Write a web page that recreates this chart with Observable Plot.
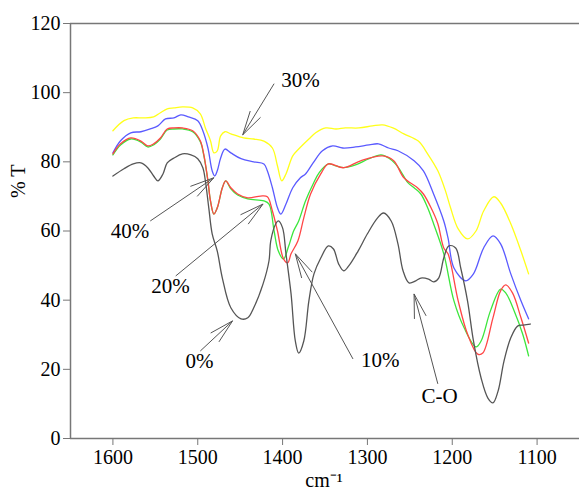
<!DOCTYPE html>
<html>
<head>
<meta charset="utf-8">
<script src="https://cdn.jsdelivr.net/npm/d3@7"></script>
<script src="https://cdn.jsdelivr.net/npm/@observablehq/plot@0.6"></script>
<style>
  html, body { margin: 0; padding: 0; background: #fff; }
  #chart { width: 579px; height: 493px; }
  #chart svg, #chart svg text { font-family: "Liberation Serif", "Times New Roman", serif !important; }
</style>
</head>
<body>
<div id="chart"></div>
<script>
// ---- data (wavenumber cm-1, %T) ----
const x30 = [1600,1587,1576,1564,1552,1544,1536,1528,1518,1506,1497,1491,1485,1481,1477,1473,1468,1461,1446,1434,1422,1412,1406,1401,1396,1388,1381,1369,1361,1349,1337,1326,1310,1294,1282,1270,1257,1240,1229,1217,1208,1202,1193,1182,1172,1163,1151,1143,1131,1119,1110];
const y30 = [89.0,91.9,92.7,92.7,93.0,94.2,95.3,95.6,95.9,95.6,93.9,89.8,86.1,82.6,83.2,87.5,88.7,88.1,86.9,86.6,86.0,84.0,78.8,74.5,76.5,81.7,83.7,86.6,88.4,89.8,89.5,89.8,89.8,90.4,90.7,89.8,88.1,86.0,82.3,77.4,71.6,66.7,60.6,57.7,60.0,65.8,69.9,68.1,62.1,54.2,47.6];

const x40 = [1600,1591,1579,1567,1556,1547,1538,1528,1520,1511,1500,1494,1488,1483,1480,1477,1473,1468,1461,1449,1434,1422,1418,1412,1406,1402,1396,1388,1379,1373,1364,1353,1341,1329,1314,1298,1287,1275,1264,1245,1234,1222,1210,1205,1198,1184,1175,1163,1152,1143,1131,1119,1110];
const y40 = [82.6,86.1,88.4,88.7,89.5,90.4,92.4,92.7,93.6,93.0,91.9,89.0,84.0,77.4,75.9,77.4,81.1,83.7,82.6,80.9,80.0,79.4,77.4,72.5,66.7,64.9,67.8,72.5,75.4,76.5,79.7,83.2,84.6,84.0,84.3,84.9,85.2,84.0,83.2,80.3,77.4,70.7,62.9,58.0,49.3,45.6,47.6,55.1,58.6,56.3,47.6,39.8,34.6];

const x20 = [1600,1591,1579,1567,1559,1552,1544,1536,1528,1518,1506,1497,1493,1488,1485,1481,1477,1471,1467,1461,1453,1441,1422,1416,1410,1405,1399,1393,1387,1381,1373,1364,1357,1346,1337,1328,1314,1298,1284,1275,1267,1261,1252,1245,1237,1229,1222,1210,1198,1186,1172,1166,1155,1143,1137,1127,1117,1110];
const y20 = [82.0,84.9,86.6,85.7,84.3,84.9,86.6,89.2,89.5,89.5,88.7,85.8,82.0,74.5,68.7,64.9,66.7,72.5,74.5,72.2,70.4,69.3,68.7,67.8,60.0,54.2,51.9,55.5,60.0,62.9,68.7,73.6,76.8,79.4,78.8,78.3,79.1,80.9,82.0,81.1,79.4,77.4,73.9,72.5,70.7,66.7,62.1,53.4,39.8,32.0,26.5,28.2,36.9,43.2,42.1,36.9,30.2,23.9];

const x10 = [1600,1591,1579,1567,1559,1552,1544,1536,1528,1518,1506,1497,1493,1488,1485,1481,1477,1471,1467,1461,1453,1441,1426,1418,1412,1406,1399,1394,1390,1382,1375,1367,1355,1346,1328,1308,1282,1269,1257,1241,1234,1225,1217,1210,1205,1193,1182,1170,1164,1152,1143,1137,1129,1119,1110];
const y10 = [82.3,85.2,86.9,86.0,84.6,85.2,86.9,89.5,89.8,89.8,89.0,86.1,82.3,74.5,68.7,64.9,66.7,72.5,74.5,72.5,70.7,69.6,70.1,69.9,65.8,60.0,52.0,50.8,53.4,57.1,63.8,70.7,76.5,79.4,78.3,80.3,81.7,80.3,75.4,72.5,70.7,66.7,62.1,55.1,53.4,39.8,30.2,24.4,24.7,34.9,42.7,44.4,42.1,34.9,27.6];

const x0 = [1600,1587,1576,1567,1559,1552,1547,1541,1536,1528,1518,1508,1500,1494,1491,1487,1483,1477,1471,1461,1449,1441,1434,1423,1416,1414,1408,1405,1400,1396,1390,1385,1381,1375,1369,1363,1355,1346,1340,1334,1328,1322,1311,1300,1288,1281,1272,1264,1258,1251,1243,1237,1228,1222,1216,1210,1204,1196,1190,1182,1175,1166,1158,1152,1146,1139,1131,1123,1116,1108];
const y0 = [75.9,78.0,79.4,79.7,78.3,75.9,74.5,76.5,79.7,81.1,82.3,82.0,80.9,78.3,74.5,66.7,59.2,54.2,46.4,37.8,34.6,34.9,37.8,44.7,51.4,57.1,62.1,62.9,60.9,53.4,41.8,28.2,24.7,28.2,39.8,47.6,52.2,55.7,54.8,50.5,48.5,49.9,54.2,59.2,63.8,65.2,62.9,56.3,48.5,45.0,45.6,46.4,46.1,45.3,46.4,52.2,55.7,55.1,49.3,39.8,28.2,17.5,11.7,10.3,13.7,22.4,29.1,32.5,32.8,33.1];

const xTicks = [1600, 1500, 1400, 1300, 1200, 1100];
const yTicks = [0, 20, 40, 60, 80, 100, 120];

// annotations (label + arrow tail -> head, in data units)
const labels = ["30%", "40%", "20%", "0%", "10%", "C-O"];
const labelX = [1379, 1580, 1532, 1498, 1285, 1215];
const labelY = [103.7, 59.9, 44.1, 22.4, 22.7, 12.3];
const tailX = [1410, 1556, 1526, 1497, 1317, 1217];
const tailY = [102.6, 62.9, 47.0, 25.3, 23.0, 15.8];
const headX = [1447, 1481, 1423, 1459, 1385, 1245];
const headY = [87.8, 75.4, 67.8, 34.0, 53.4, 41.8];

// ---- build tables ----
const series = [
  {name: "30%", xs: x30, ys: y30, color: "#ffff1a"},
  {name: "40%", xs: x40, ys: y40, color: "#5a5aff"},
  {name: "20%", xs: x20, ys: y20, color: "#3ce63c"},
  {name: "10%", xs: x10, ys: y10, color: "#ff4646"},
  {name: "0%",  xs: x0,  ys: y0,  color: "#555555"}
];
const notes = labels.map((t, i) => ({t, lx: labelX[i], ly: labelY[i], x1: tailX[i], y1: tailY[i], x2: headX[i], y2: headY[i]}));

const FONT = "'Liberation Serif', 'Times New Roman', serif";
const AX = "#777";

function marks(extra) {
  const m = [
    Plot.ruleY([120], {stroke: AX, strokeWidth: 1.5}),
    Plot.ruleY([0], {stroke: AX, strokeWidth: 1.5}),
    Plot.ruleX([1650], {stroke: AX, strokeWidth: 1.5}),
    Plot.axisX({ticks: xTicks, tickFormat: d => String(d), tickSize: 7, tickPadding: 4, stroke: AX, fill: "#000", label: null, fontSize: 20, fontFamily: FONT}),
    Plot.axisY({ticks: yTicks, tickFormat: d => String(d), tickSize: 7, tickPadding: 3, stroke: AX, fill: "#000", label: null, fontSize: 20, fontFamily: FONT})
  ];
  for (const s of series) {
    const rows = s.xs.map((x, i) => ({x, y: s.ys[i]}));
    m.push(Plot.line(rows, {x: "x", y: "y", stroke: s.color, strokeWidth: 1.3, curve: "catmull-rom"}));
  }
  return m.concat(extra || []);
}

const opts = {
  width: 579,
  height: 493,
  marginTop: 23,
  marginBottom: 55,
  marginLeft: 70,
  marginRight: 0,
  x: {domain: [1650, 1050]},
  y: {domain: [0, 120]},
  style: {fontFamily: FONT, fontSize: "20px", color: "#000", background: "#fff", overflow: "visible"}
};

// first pass to get the scales (for arrowhead wing directions in screen space)
const base = Plot.plot({...opts, marks: marks()});
const sx = base.scale("x"), sy = base.scale("y");
const WING = 25, HALF = 14 * Math.PI / 180;
const wings = [];
for (const n of notes) {
  const hx = sx.apply(n.x2), hy = sy.apply(n.y2);
  const tx = sx.apply(n.x1), ty = sy.apply(n.y1);
  const a = Math.atan2(ty - hy, tx - hx);
  for (const s of [-1, 1]) {
    const px = hx + WING * Math.cos(a + s * HALF);
    const py = hy + WING * Math.sin(a + s * HALF);
    wings.push({x1: n.x2, y1: n.y2, x2: sx.invert(px), y2: sy.invert(py)});
  }
}

const chart = Plot.plot({
  ...opts,
  marks: marks([
    Plot.link(notes, {x1: "x1", y1: "y1", x2: "x2", y2: "y2", stroke: "#555", strokeWidth: 1}),
    Plot.link(wings, {x1: "x1", y1: "y1", x2: "x2", y2: "y2", stroke: "#555", strokeWidth: 1}),
    Plot.text(notes, {x: "lx", y: "ly", text: "t", fontSize: 21, fontFamily: FONT, fill: "#000", textAnchor: "middle", lineAnchor: "middle"}),
    Plot.text(["% T"], {frameAnchor: "left", dx: -52, dy: -33, rotate: -90, fontSize: 20, fontFamily: FONT, fill: "#000", text: d => d}),
    Plot.text(["cm⁻¹"], {frameAnchor: "bottom", dx: -1, dy: 48, fontSize: 20, fontFamily: FONT, fill: "#000", text: d => d})
  ])
});
document.getElementById("chart").appendChild(chart);
</script>
</body>
</html>
